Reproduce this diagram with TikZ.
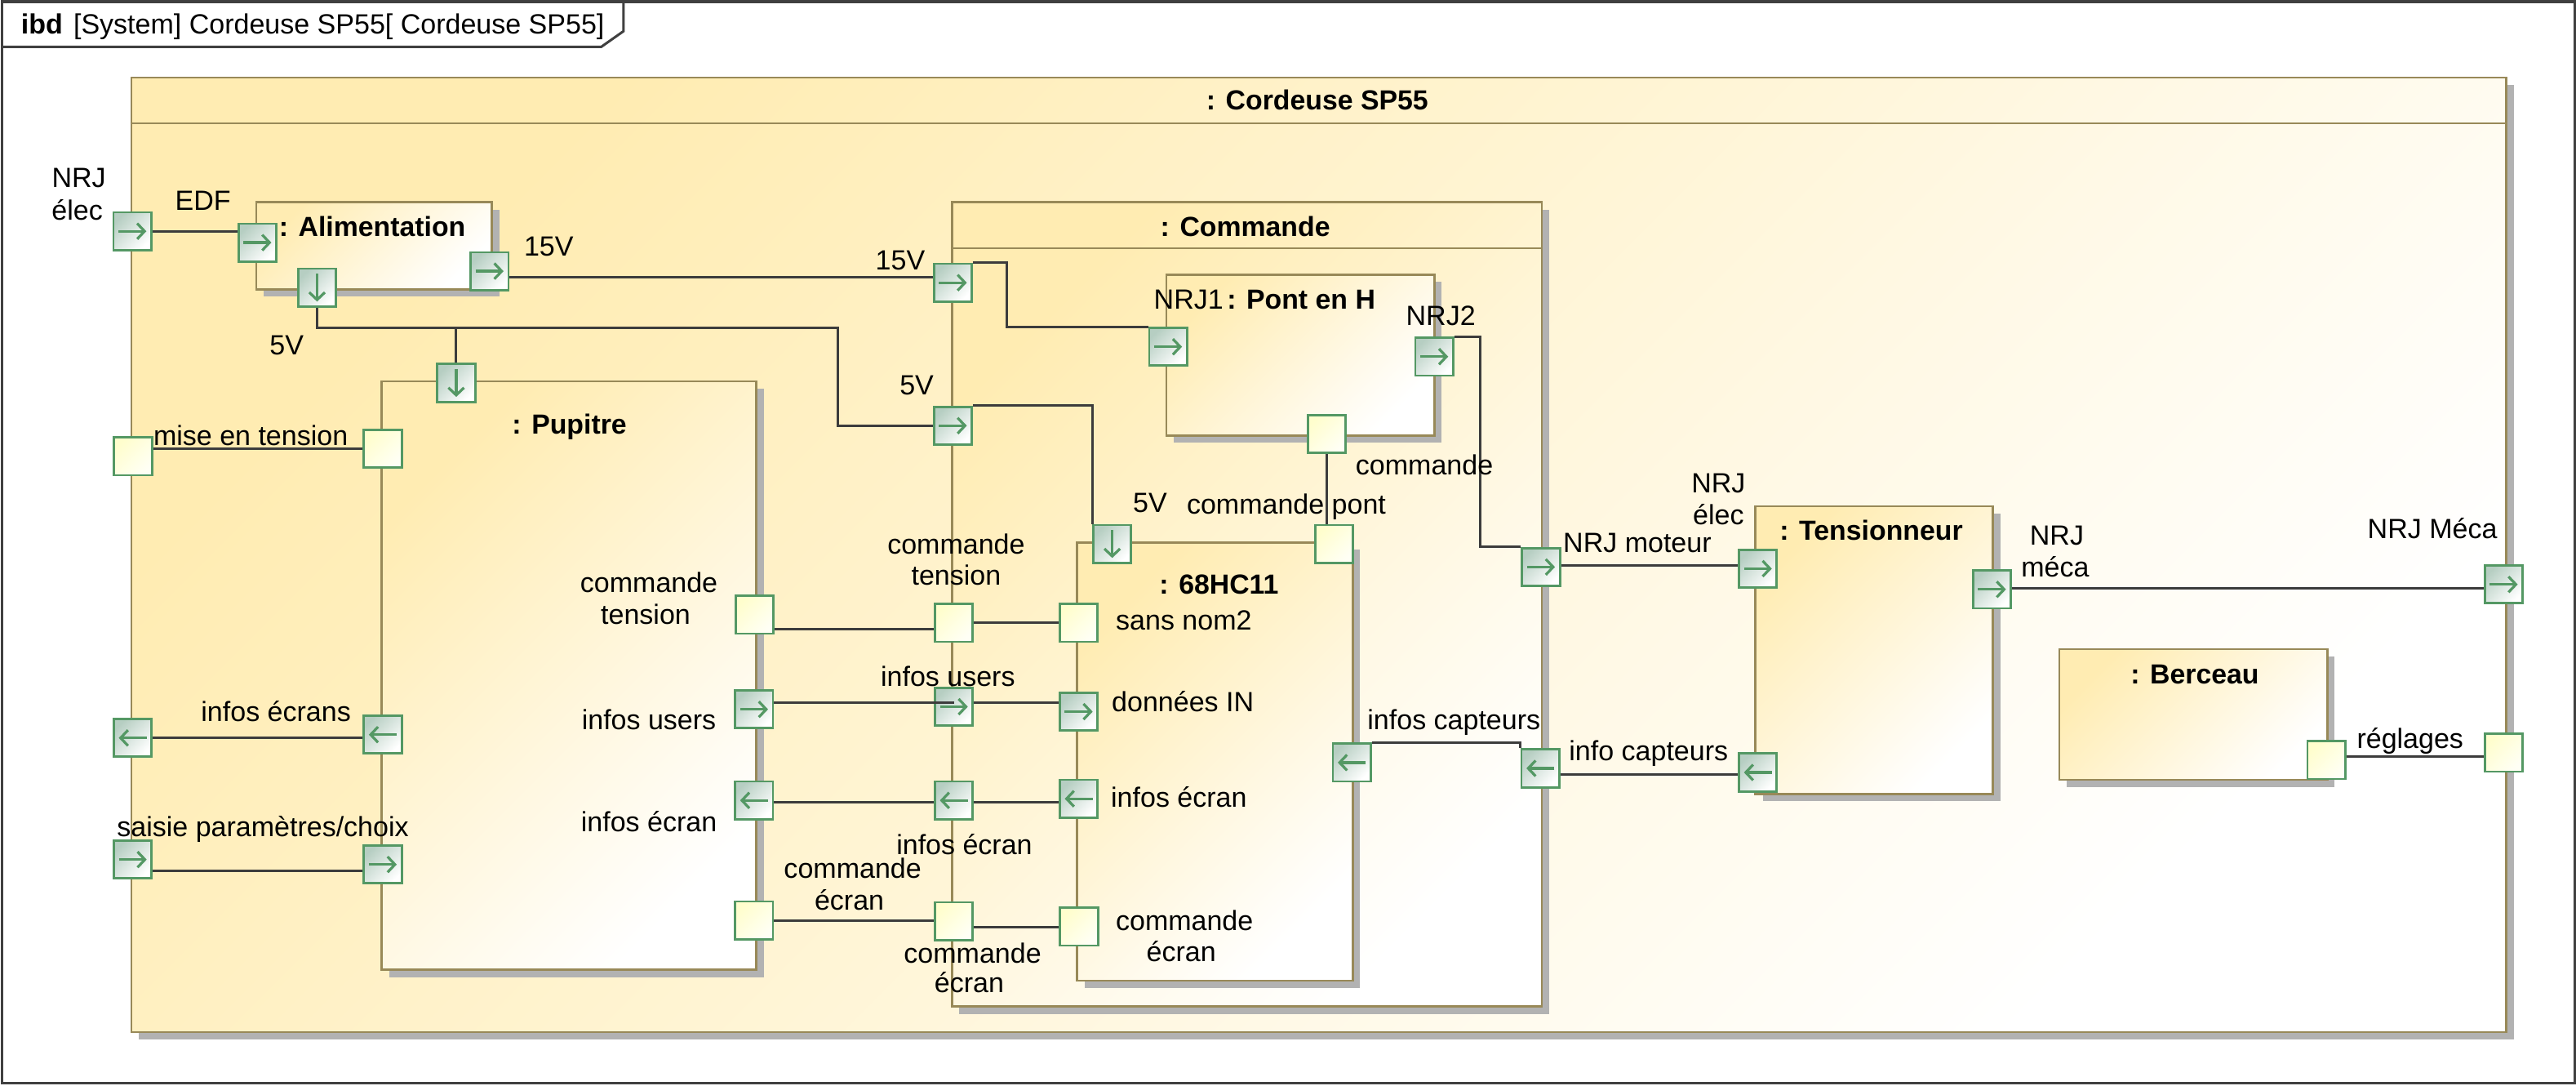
\documentclass[tikz,border=0pt]{standalone}
\usepackage{fontspec}
\setmainfont{Liberation Sans}
\usetikzlibrary{arrows.meta,calc}
\pgfdeclarelayer{back}\pgfdeclarelayer{mid}\pgfdeclarelayer{front}
\pgfsetlayers{back,mid,main,front}
\definecolor{frameC}{RGB}{64,64,64}
\definecolor{blkB}{RGB}{152,137,88}
\definecolor{blkY}{RGB}{255,236,178}
\definecolor{shad}{RGB}{178,178,178}
\definecolor{portG}{RGB}{84,152,100}
\definecolor{portF}{RGB}{182,206,194}
\definecolor{portP}{RGB}{255,254,205}
\definecolor{lineC}{RGB}{60,60,60}
\newcommand\mkR[2]{\node[fport] (#1) at (#2) {}; \draw[parr] ([xshift=-8.5pt]#1.center) -- ([xshift=8.5pt]#1.center);}
\newcommand\mkL[2]{\node[fport] (#1) at (#2) {}; \draw[parr] ([xshift=8.5pt]#1.center) -- ([xshift=-8.5pt]#1.center);}
\newcommand\mkD[2]{\node[fport] (#1) at (#2) {}; \draw[parr] ([yshift=8.5pt]#1.center) -- ([yshift=-8.5pt]#1.center);}
\newcommand\mkP[2]{\node[pport] (#1) at (#2) {};}
\begin{document}
\begin{tikzpicture}[x=1pt,y=-1pt,
  lbl/.style={inner sep=0pt, font=\fontsize{16.9}{20}\selectfont},
  ttl/.style={inner sep=0pt, font=\fontsize{16.8}{20}\selectfont\bfseries},
  frm/.style={draw=frameC, line width=1.5pt},
  blk/.style={draw=blkB, line width=1.4pt, top color=blkY, bottom color=white, shading angle=45, inner sep=0pt,
    preaction={fill=shad, transform canvas={shift={(4.5pt,-4.5pt)}}}},
  hline/.style={draw=blkB, line width=1.4pt},
  fport/.style={draw=portG, line width=1.4pt, minimum size=23pt, inner sep=0pt, top color=portF, bottom color=white, shading angle=45},
  pport/.style={draw=portG, line width=1.4pt, minimum size=23pt, inner sep=0pt, top color=portP, bottom color={rgb,255:red,255;green,255;blue,245}, shading angle=45},
  parr/.style={draw=portG, line width=1.6pt, -{Straight Barb[length=4.5pt,width=9.5pt]}},
  cn/.style={draw=lineC, line width=1.5pt}
]
\useasboundingbox (0,0) rectangle (1568,660.3);
\begin{pgfonlayer}{back}
\fill[white] (0,0) rectangle (1568,660.3);
\draw[frm] (1,1) rectangle (1567,659);
\draw[frm] (1,28.5) -- (366,28.5) -- (379.5,19) -- (379.5,1);
\node[blk, minimum width=1445.5pt, minimum height=580.8pt] (cord) at (802.75,337.6) {};
\draw[hline] (cord.west |- 0,75) -- (cord.east |- 0,75);
\node[blk, minimum width=143.5pt, minimum height=53pt] (alim) at (227.75,149.5) {};
\node[blk, minimum width=228.2pt, minimum height=358pt] (pup) at (346.4,411) {};
\node[blk, minimum width=359pt, minimum height=489.5pt] (com) at (759,367.75) {};
\draw[hline] (com.west |- 0,151) -- (com.east |- 0,151);
\node[blk, minimum width=163pt, minimum height=98pt] (pont) at (791.5,216) {};
\node[blk, minimum width=167.6pt, minimum height=266.7pt] (hc) at (739.5,463.35) {};
\node[blk, minimum width=144.4pt, minimum height=175pt] (ten) at (1140.8,395.5) {};
\node[blk, minimum width=163pt, minimum height=79.5pt] (ber) at (1335,434.75) {};
\end{pgfonlayer}
\node[lbl, anchor=base west] (hdr) at (12.7,20.7) {\textbf{ibd}\hspace{6.5pt}[System] Cordeuse SP55[ Cordeuse SP55]};

% ports
\mkR{pNRJe}{80.6,140.7}
\mkP{pMise}{81,277.7}
\mkL{pInfE}{80.8,449}
\mkR{pSais}{80.8,523}
\mkR{pNRJM}{1524,355.6}
\mkP{pRegB}{1524,458}
\mkR{pEDF}{156.7,147.6}
\mkR{p15}{298,165}
\mkD{p5}{193,175}
\mkD{pP5}{277.7,233}
\mkP{pPmise}{233,273}
\mkL{pPinfE}{233,447}
\mkR{pPsais}{233,526}
\mkP{pPct}{459.4,374}
\mkR{pPiu}{459,431.6}
\mkL{pPie}{459,487}
\mkP{pPce}{459,560}
\mkR{pC15}{580,172}
\mkR{pC5}{580,259}
\mkP{pCct}{580.6,379}
\mkR{pCiu}{580.6,430}
\mkL{pCie}{580.6,487}
\mkP{pCce}{580.6,560.5}
\mkR{pCnm}{938,345}
\mkL{pCic}{937.6,467.5}
\mkR{pNRJ1}{711,211}
\mkR{pNRJ2}{873,217}
\mkP{pCmd}{807.5,264}
\mkD{pH5}{677,331}
\mkP{pHcp}{812,331}
\mkP{pHsn}{656.6,379}
\mkR{pHdi}{656.6,433}
\mkL{pHie}{656.6,486}
\mkP{pHce}{656.8,563.8}
\mkL{pHic}{822.8,464}
\mkR{pTe}{1070,346}
\mkL{pTic}{1070,470}
\mkR{pTm}{1212.5,358.6}
\mkP{pBr}{1416,462.5}

\coordinate (b1) at (612.6,0);
\coordinate (b2) at (0,199.6);
\coordinate (b3) at (510,0);
\coordinate (b4) at (900.8,0);

\begin{pgfonlayer}{mid}
\draw[cn] (pNRJe.east) -- (pEDF.west |- pNRJe.east);
\draw[cn] (p15.east |- 0,168.5) -- (pC15.west |- 0,168.5);
\draw[cn] (pC15.north east) -- (b1 |- pC15.north east) -- (b1 |- pNRJ1.north west) -- (pNRJ1.north west);
\draw[cn] (p5.south) -- (p5.south |- b2) -- (b3 |- b2) -- (b3 |- pC5.west) -- (pC5.west);
\draw[cn] (pP5.north |- b2) -- (pP5.north);
\draw[cn] (pC5.north east) -- (pH5.north west |- pC5.north east) -- (pH5.north west);
\draw[cn] (pNRJ2.north east) -- (b4 |- pNRJ2.north east) -- (b4 |- pCnm.north west) -- (pCnm.north west);
\draw[cn] (pCmd.south) -- (pCmd.south |- pHcp.north);
\draw[cn] (pMise.east |- pPmise.west) -- (pPmise.west);
\draw[cn] (pInfE.east) -- (pPinfE.west |- pInfE.east);
\draw[cn] (pSais.east |- 0,530) -- (pPsais.west |- 0,530);
\draw[cn] (pPct.east |- 0,382.6) -- (pCct.west |- 0,382.6);
\draw[cn] (pCct.east) -- (pHsn.west);
\draw[cn] (pCiu.east |- 0,427.4) -- (pHdi.west |- 0,427.4);
\draw[cn] (pPie.east |- 0,488) -- (pCie.west |- 0,488);
\draw[cn] (pCie.east |- 0,488) -- (pHie.west |- 0,488);
\draw[cn] (pPce.east) -- (pCce.west |- pPce.east);
\draw[cn] (pCce.east |- 0,564.2) -- (pHce.west |- 0,564.2);
\draw[cn] (pHic.north east) -- (pCic.north west |- pHic.north east) -- (pCic.north west);
\draw[cn] (pCic.east |- 0,471) -- (pTic.west |- 0,471);
\draw[cn] (pCnm.east |- 0,344) -- (pTe.west |- 0,344);
\draw[cn] (pTm.east |- 0,358) -- (pNRJM.west |- 0,358);
\draw[cn] (pBr.east |- 0,460.4) -- (pRegB.west |- 0,460.4);
\end{pgfonlayer}
\begin{pgfonlayer}{front}
\draw[cn] (pPiu.east |- 0,427.4) -- (pCiu.center |- 0,427.4);
\end{pgfonlayer}

% titles
\node[ttl, anchor=base] (tCord) at (801.8,67) {: Cordeuse SP55};
\node[ttl, anchor=base] (tAlim) at (226.6,144) {: Alimentation};
\node[ttl, anchor=base] (tPup) at (346.6,264) {: Pupitre};
\node[ttl, anchor=base] (tCom) at (758,144) {: Commande};
\node[ttl, anchor=base] (tPont) at (792,188) {: Pont en H};
\node[ttl, anchor=base] (tHC) at (742,361.6) {: 68HC11};
\node[ttl, anchor=base] (tTen) at (1139,328.6) {: Tensionneur};
\node[ttl, anchor=base] (tBer) at (1336,416) {: Berceau};

% labels
\node[lbl, anchor=base] (l1a) at (48,114) {NRJ};
\node[lbl, anchor=base] (l1b) at (47,134) {élec};
\node[lbl, anchor=base] (l2) at (123.5,128) {EDF};
\node[lbl, anchor=base] (l3) at (334,156) {15V};
\node[lbl, anchor=base] (l4) at (174.5,215.8) {5V};
\node[lbl, anchor=base] (l5) at (152.6,271) {mise en tension};
\node[lbl, anchor=base] (l6) at (168,439) {infos écrans};
\node[lbl, anchor=base] (l7) at (160,509) {saisie paramètres/choix};
\node[lbl, anchor=base] (l8a) at (395,360.6) {commande};
\node[lbl, anchor=base] (l8b) at (393,380) {tension};
\node[lbl, anchor=base] (l9) at (395,444) {infos users};
\node[lbl, anchor=base] (l10) at (395,506) {infos écran};
\node[lbl, anchor=base] (l11a) at (519,534.5) {commande};
\node[lbl, anchor=base] (l11b) at (517,553.5) {écran};
\node[lbl, anchor=base] (l12) at (548,164) {15V};
\node[lbl, anchor=base] (l13) at (558,240) {5V};
\node[lbl, anchor=base] (l14) at (723.5,188) {NRJ1};
\node[lbl, anchor=base] (l15) at (877,198) {NRJ2};
\node[lbl, anchor=base] (l16) at (867,289) {commande};
\node[lbl, anchor=base] (l17) at (783,313) {commande pont};
\node[lbl, anchor=base] (l18) at (700,311.6) {5V};
\node[lbl, anchor=base] (l19a) at (582,337) {commande};
\node[lbl, anchor=base] (l19b) at (582,356) {tension};
\node[lbl, anchor=base] (l20) at (720.6,383.4) {sans nom2};
\node[lbl, anchor=base] (l21) at (577,417.7) {infos users};
\node[lbl, anchor=base] (l22) at (720,433) {données IN};
\node[lbl, anchor=base] (l23) at (587,520) {infos écran};
\node[lbl, anchor=base] (l24) at (717.6,491) {infos écran};
\node[lbl, anchor=base] (l25a) at (592,586) {commande};
\node[lbl, anchor=base] (l25b) at (590,604) {écran};
\node[lbl, anchor=base] (l26a) at (721,566) {commande};
\node[lbl, anchor=base] (l26b) at (719,585) {écran};
\node[lbl, anchor=base] (l27) at (885,444) {infos capteurs};
\node[lbl, anchor=base] (l28) at (996.6,336) {NRJ moteur};
\node[lbl, anchor=base] (l29) at (1003.5,463) {info capteurs};
\node[lbl, anchor=base] (l30a) at (1046,300) {NRJ};
\node[lbl, anchor=base] (l30b) at (1046,319) {élec};
\node[lbl, anchor=base] (l31a) at (1252,331.4) {NRJ};
\node[lbl, anchor=base] (l31b) at (1251,351) {méca};
\node[lbl, anchor=base] (l32) at (1480.6,327.6) {NRJ Méca};
\node[lbl, anchor=base] (l33) at (1467,455.5) {réglages};
\end{tikzpicture}
\end{document}
